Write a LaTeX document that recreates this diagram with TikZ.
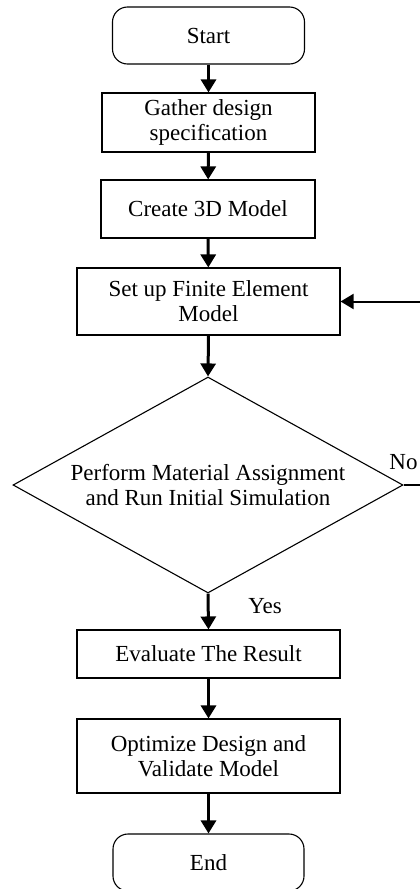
\documentclass[tikz,border=0pt]{standalone}
\usepackage{fontspec}
\setmainfont{Liberation Serif}
\usetikzlibrary{shapes.geometric,arrows.meta}

\tikzset{
  box/.style={draw, line width=0.55pt, align=center, inner sep=1pt,
    font=\fontsize{11.5pt}{12.5pt}\selectfont},
  term/.style={box, rounded corners=7.5pt},
  decide/.style={box, shape=diamond, aspect=1.8, inner sep=0pt,
    minimum width=195pt, minimum height=108pt},
  flow/.style={line width=1.5pt, -{Triangle[width=7.5pt,length=6.5pt]}},
  backflow/.style={line width=1pt, -{Triangle[width=7.5pt,length=6.5pt]}},
  tag/.style={font=\fontsize{11.5pt}{12.5pt}\selectfont, inner sep=0pt}
}

\begin{document}
\begin{tikzpicture}[x=0.5pt,y=-0.5pt]
	
	% page frame, same size as the picture
	\useasboundingbox (0,0) rectangle (419,889);
	
	% Draw the steps
	\node[term, minimum width=96pt, minimum height=28.5pt] (start) at (208.5,35.5) {Start};
	\node[box, minimum width=106.5pt, minimum height=29.5pt] (gather) at (208.5,122.5) {Gather design\\specification};
	\node[box, minimum width=107pt, minimum height=29pt] (create) at (208,209) {Create 3D Model};
	\node[box, minimum width=131.5pt, minimum height=33.5pt] (fem) at (208.5,301.5) {Set up Finite Element\\Model};
	\node[decide] (run) at (208,485) {Perform Material Assignment\\and Run Initial Simulation};
	\node[box, minimum width=131.5pt, minimum height=24pt] (eval) at (208.5,654) {Evaluate The Result};
	\node[box, minimum width=131.5pt, minimum height=37pt] (optim) at (208.5,756) {Optimize Design and\\Validate Model};
	\node[term, minimum width=95.5pt, minimum height=28.5pt] (finish) at (208.5,862.5) {End};
	
	% Draw the answers
	\node[tag] (yes) at (265,606) {Yes};
	\node[tag, anchor=west] (no) at (389,462) {No};
	
	% Draw the arrows
	\draw[flow] (start) -- (gather);
	\draw[flow] (gather) -- (create);
	\draw[flow] (create) -- (fem);
	\draw[flow] (fem.south) -- (run.north);
	\draw[flow] (run.south) -- (eval.north);
	\draw[flow] (eval) -- (optim);
	\draw[flow] (optim) -- (finish);
	
	% Draw the way back
	\coordinate (turn) at (432,485);
	\draw[backflow] (run.east) -- (turn) |- (fem.east);
	
\end{tikzpicture}
\end{document}
